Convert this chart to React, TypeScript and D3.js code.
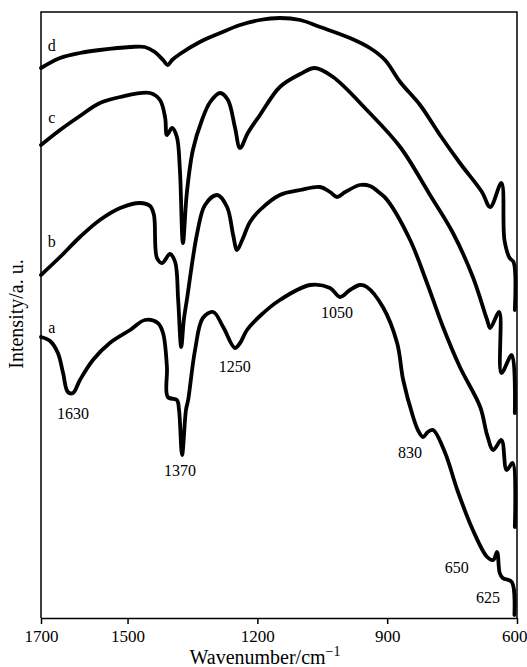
import React, { useEffect, useRef } from 'react';
import * as d3 from 'd3';

// [wavenumber cm-1, intensity a.u.]
const curveA = [
  [1700, 281], [1679, 277], [1661, 265], [1649, 245], [1638, 226], [1626, 225], [1610, 238],
  [1580, 258], [1541, 275], [1494, 288], [1460, 298], [1430, 295], [1418, 285], [1409, 251],
  [1407, 221], [1386, 218], [1381, 208], [1374, 163], [1365, 208], [1360, 218], [1344, 268],
  [1326, 300], [1302, 306], [1279, 291], [1252, 270], [1240, 275], [1224, 288], [1194, 302],
  [1148, 318], [1078, 333], [1032, 330], [1009, 321], [986, 328], [963, 333], [947, 331],
  [910, 311], [877, 275], [863, 238], [840, 201], [829, 188], [817, 181], [806, 186], [794, 188],
  [766, 165], [738, 128], [702, 88], [669, 61], [655, 58], [646, 66], [640, 45], [633, 40],
  [612, 36], [606, 3]
];

const curveB = [
  [1700, 343], [1656, 361], [1610, 381], [1564, 398], [1517, 410], [1471, 415], [1448, 412],
  [1439, 403], [1432, 360], [1420, 355], [1402, 364], [1390, 356], [1383, 318], [1376, 271],
  [1370, 298], [1363, 318], [1339, 385], [1321, 413], [1293, 423], [1270, 411], [1256, 383],
  [1247, 368], [1235, 378], [1217, 396], [1194, 408], [1148, 423], [1101, 428], [1055, 431],
  [1032, 426], [1016, 421], [997, 426], [963, 433], [940, 432], [917, 425], [900, 418],
  [847, 378], [808, 335], [771, 291], [732, 251], [685, 211], [669, 183], [655, 168],
  [636, 178], [624, 148], [610, 155], [605, 91]
];

const curveC = [
  [1700, 473], [1656, 488], [1610, 502], [1564, 515], [1517, 521], [1448, 525], [1425, 518],
  [1413, 500], [1409, 483], [1397, 490], [1386, 481], [1379, 448], [1372, 375], [1363, 425],
  [1349, 468], [1328, 498], [1309, 516], [1286, 525], [1268, 518], [1252, 491], [1240, 470],
  [1222, 485], [1194, 503], [1148, 531], [1101, 544], [1067, 550], [1025, 541], [947, 508],
  [870, 471], [801, 423], [748, 385], [702, 341], [669, 298], [662, 290], [641, 306],
  [636, 245], [612, 263], [605, 205]
];

const curveD = [
  [1700, 550], [1656, 560], [1610, 565], [1564, 568], [1494, 571], [1460, 571], [1437, 566],
  [1418, 558], [1407, 553], [1397, 558], [1379, 564], [1333, 576], [1286, 585], [1240, 593],
  [1194, 598], [1148, 600], [1101, 598], [1055, 591], [986, 580], [940, 570], [905, 558],
  [870, 536], [824, 513], [778, 483], [732, 455], [681, 426], [662, 411], [636, 435],
  [629, 378], [617, 360], [608, 356], [605, 308]
];

const tickValues = [1700, 1500, 1200, 900, 600];

const curveLabels = ['a', 'b', 'c', 'd'];
const curveLabelWn = [1675, 1675, 1675, 1675];
const curveLabelInt = [291, 377, 501, 573];

const peakLabels = ['1630', '1370', '1250', '1050', '830', '650', '625'];
const peakLabelWn = [1626, 1379, 1252, 1016, 847, 739, 667];
const peakLabelInt = [205, 148, 252, 306, 166, 51, 21];

const FONT = '"Liberation Serif", "Times New Roman", serif';

function App() {
  const ref = useRef<SVGSVGElement>(null);

  useEffect(() => {
    const svg = d3.select(ref.current);
    svg.selectAll('*').remove();

    const x = d3.scaleLinear().domain([1700, 600]).range([41, 517]);
    const y = d3.scaleLinear().domain([0, 606]).range([618, 12]);

    const line = d3.line<number[]>()
      .x(d => x(d[0]))
      .y(d => y(d[1]))
      .curve(d3.curveCatmullRom.alpha(0.5));

    // frame
    svg.append('path')
      .attr('d', `M${x(1700)},${y(0)}V${y(606)}H${x(600)}V${y(0)}`)
      .attr('fill', 'none')
      .attr('stroke', '#000')
      .attr('stroke-width', 1.5);

    const xAxis = svg.append('g')
      .attr('transform', 'translate(0,' + y(0) + ')')
      .call(d3.axisBottom(x).tickValues(tickValues).tickSize(6).tickSizeOuter(0).tickPadding(6).tickFormat(d3.format('d')))
      .attr('font-family', FONT)
      .attr('font-size', 17);
    xAxis.select('.domain').attr('stroke-width', 1.5);
    xAxis.selectAll('.tick line').attr('stroke-width', 1.5);
    xAxis.selectAll('.tick text').attr('fill', '#000');
    // last label sits against the right edge of the page
    xAxis.selectAll('.tick text')
      .filter((d: any) => d === 600)
      .attr('text-anchor', 'end')
      .attr('x', 10);

    [curveA, curveB, curveC, curveD].forEach(c => {
      svg.append('path')
        .attr('d', line(c))
        .attr('fill', 'none')
        .attr('stroke', '#000')
        .attr('stroke-width', 3.8)
        .attr('stroke-linejoin', 'round')
        .attr('stroke-linecap', 'round');
    });

    svg.selectAll('.clabel')
      .data(curveLabels)
      .enter().append('text')
        .attr('class', 'clabel')
        .attr('x', (d, i) => x(curveLabelWn[i]))
        .attr('y', (d, i) => y(curveLabelInt[i]))
        .attr('dy', '0.35em')
        .attr('text-anchor', 'middle')
        .attr('font-family', FONT)
        .attr('font-size', 16)
        .text(d => d);

    svg.selectAll('.plabel')
      .data(peakLabels)
      .enter().append('text')
        .attr('class', 'plabel')
        .attr('x', (d, i) => x(peakLabelWn[i]))
        .attr('y', (d, i) => y(peakLabelInt[i]))
        .attr('dy', '0.35em')
        .attr('text-anchor', 'middle')
        .attr('font-family', FONT)
        .attr('font-size', 16)
        .text(d => d);

    const title = svg.append('text')
      .attr('x', 265)
      .attr('y', 664)
      .attr('text-anchor', 'middle')
      .attr('font-family', FONT)
      .attr('font-size', 20);
    title.append('tspan').text('Wavenumber/cm');
    title.append('tspan').attr('dy', -8).attr('font-size', 14).text('\u22121');

    svg.append('text')
      .attr('transform', 'translate(23,314) rotate(-90)')
      .attr('text-anchor', 'middle')
      .attr('font-family', FONT)
      .attr('font-size', 20)
      .text('Intensity/a. u.');
  }, []);

  return (
    <svg ref={ref} width={527} height={667}
      style={{ position: 'absolute', left: 0, top: 0, background: '#fff' }} />
  );
}

export default App;
